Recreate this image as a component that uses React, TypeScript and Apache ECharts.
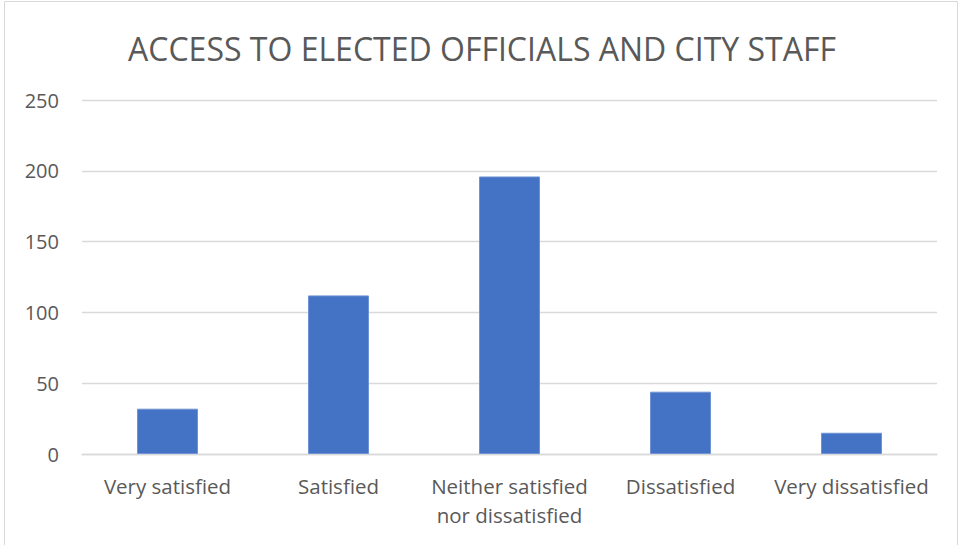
import React, { useEffect, useRef } from "react";
import * as echarts from "echarts";

const chartTitle = "ACCESS TO ELECTED OFFICIALS AND CITY STAFF";
const categories = [
  "Very satisfied",
  "Satisfied",
  "Neither satisfied\nnor dissatisfied",
  "Dissatisfied",
  "Very dissatisfied",
];
const counts = [32, 112, 196, 44, 15];
const yTicks = { min: 0, max: 250, interval: 50 };

export default function App() {
  const ref = useRef<HTMLDivElement>(null);
  useEffect(() => {
    if (!ref.current) return;
    const chart = echarts.init(ref.current, undefined, { renderer: "svg" });
    chart.setOption({
      animation: false,
      backgroundColor: "#ffffff",
      title: {
        text: chartTitle,
        left: "center",
        top: 27,
        textStyle: {
          fontFamily: "Open Sans",
          fontSize: 32,
          fontWeight: "normal",
          color: "#595959",
        },
      },
      graphic: [
        {
          type: "rect",
          shape: { x: 4.5, y: 1.5, width: 953, height: 560 },
          style: { fill: "none", stroke: "#d9d9d9", lineWidth: 1 },
          silent: true,
        },
      ],
      grid: { left: 82, right: 27, top: 100, bottom: 91, containLabel: false },
      xAxis: {
        type: "category",
        data: categories,
        axisLine: { show: true, lineStyle: { color: "#d9d9d9", width: 1.3 } },
        axisTick: { show: false },
        axisLabel: {
          fontFamily: "Open Sans",
          fontSize: 20.5,
          color: "#595959",
          margin: 17,
          lineHeight: 29,
          interval: 0,
        },
      },
      yAxis: {
        type: "value",
        min: yTicks.min,
        max: yTicks.max,
        interval: yTicks.interval,
        axisLine: { show: false },
        axisTick: { show: false },
        splitLine: { lineStyle: { color: "#d9d9d9", width: 1.3 } },
        axisLabel: {
          fontFamily: "Open Sans",
          fontSize: 20,
          color: "#595959",
          margin: 23,
        },
      },
      series: [
        {
          type: "bar",
          data: counts,
          barWidth: 61,
          itemStyle: { color: "#4472c4", borderColor: "#6f93d4", borderWidth: 1 },
        },
      ],
    });
    return () => chart.dispose();
  }, []);
  return <div ref={ref} style={{ width: 964, height: 545, position: "absolute", left: 0, top: 0 }} />;
}
